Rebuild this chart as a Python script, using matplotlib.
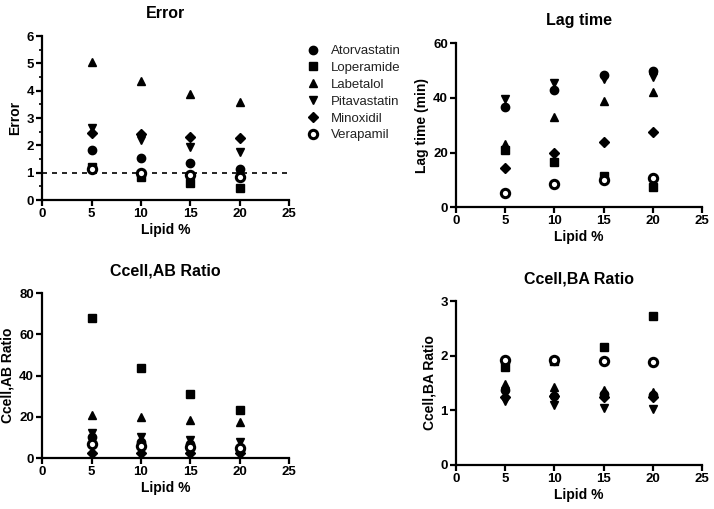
import matplotlib
matplotlib.use("Agg")
import matplotlib.pyplot as plt
from matplotlib.lines import Line2D
from matplotlib.ticker import MultipleLocator

plt.rcParams['font.family'] = ['Liberation Sans', 'DejaVu Sans']

lipid = [5, 10, 15, 20]
drugs = ["Atorvastatin", "Loperamide", "Labetalol", "Pitavastatin", "Minoxidil", "Verapamil"]
markers = ["o", "s", "^", "v", "D", "o"]

error_vals = {
    "Atorvastatin": [1.85, 1.55, 1.37, 1.12],
    "Loperamide":   [1.2, 0.85, 0.62, 0.45],
    "Labetalol":    [5.05, 4.35, 3.9, 3.6],
    "Pitavastatin": [2.65, 2.2, 1.95, 1.75],
    "Minoxidil":    [2.45, 2.42, 2.32, 2.27],
    "Verapamil":    [1.12, 1.0, 0.93, 0.85],
}
lag_vals = {
    "Atorvastatin": [36.5, 43, 48.5, 50],
    "Loperamide":   [21, 16.5, 11.5, 7.5],
    "Labetalol":    [23, 33, 39, 42],
    "Pitavastatin": [39.5, 45.5, 47, 47.5],
    "Minoxidil":    [14.5, 20, 24, 27.5],
    "Verapamil":    [5.2, 8.5, 10, 10.5],
}
ab_vals = {
    "Atorvastatin": [10, 8, 7, 4],
    "Loperamide":   [68, 43.5, 31, 23.5],
    "Labetalol":    [21, 20, 18.5, 17.5],
    "Pitavastatin": [12, 10, 9, 8],
    "Minoxidil":    [2.5, 2.5, 2.5, 2.5],
    "Verapamil":    [7, 6, 5.5, 5],
}
ba_vals = {
    "Atorvastatin": [1.38, 1.27, 1.3, 1.28],
    "Loperamide":   [1.8, 1.9, 2.16, 2.72],
    "Labetalol":    [1.48, 1.42, 1.37, 1.33],
    "Pitavastatin": [1.18, 1.1, 1.05, 1.03],
    "Minoxidil":    [1.25, 1.27, 1.25, 1.25],
    "Verapamil":    [1.92, 1.92, 1.9, 1.88],
}

fig = plt.figure(figsize=(7.14, 5.09), dpi=100)
positions = [
    [0.059, 0.607, 0.346, 0.322],
    [0.639, 0.593, 0.344, 0.322],
    [0.059, 0.100, 0.346, 0.324],
    [0.639, 0.0865, 0.344, 0.322],
]
titles = ["Error", "Lag time", "Ccell,AB Ratio", "Ccell,BA Ratio"]
ylabels = ["Error", "Lag time (min)", "Ccell,AB Ratio", "Ccell,BA Ratio"]
datasets = [error_vals, lag_vals, ab_vals, ba_vals]
ylims = [(0, 6), (0, 60), (0, 80), (0, 3)]
ysteps = [1, 20, 20, 1]

def draw_marker(ax, drug, x, y):
    i = drugs.index(drug)
    m = markers[i]
    if drug == "Verapamil":
        ax.plot(x, y, linestyle="none", marker="o", markersize=6,
                markerfacecolor="white", markeredgecolor="black", markeredgewidth=2.2, zorder=3)
    else:
        ms = 6 if m != "D" else 5
        ax.plot(x, y, linestyle="none", marker=m, markersize=ms, color="black", zorder=3)

for k in range(4):
    ax = fig.add_axes(positions[k])
    data = datasets[k]
    for d in drugs:
        draw_marker(ax, d, lipid, data[d])
    if k == 0:
        ax.axhline(1, color="black", linestyle=(0, (3, 3)), linewidth=1.2, zorder=1)
        ax.yaxis.set_minor_locator(MultipleLocator(0.5))
    ax.set_xlim(0, 25)
    ax.set_ylim(*ylims[k])
    ax.xaxis.set_major_locator(MultipleLocator(5))
    ax.yaxis.set_major_locator(MultipleLocator(ysteps[k]))
    for s in ["top", "right"]:
        ax.spines[s].set_visible(False)
    for s in ["left", "bottom"]:
        ax.spines[s].set_linewidth(1.6)
    ax.tick_params(axis="both", which="major", width=1.6, length=4, labelsize=9.5, pad=2)
    ax.tick_params(axis="both", which="minor", width=1.2, length=2.5)
    for lbl in ax.get_xticklabels() + ax.get_yticklabels():
        lbl.set_fontweight("bold")
    ax.set_title(titles[k], fontsize=11.5, fontweight="bold", pad=13)
    ax.set_ylabel(ylabels[k], fontsize=10, fontweight="bold", labelpad=3)
    ax.set_xlabel("Lipid %", fontsize=10, fontweight="bold", labelpad=2)
    for line in ax.lines:
        line.set_clip_on(False)

handles = []
for i, d in enumerate(drugs):
    if d == "Verapamil":
        h = Line2D([], [], linestyle="none", marker="o", markersize=6,
                   markerfacecolor="white", markeredgecolor="black", markeredgewidth=2.2)
    else:
        ms = 6 if markers[i] != "D" else 5
        h = Line2D([], [], linestyle="none", marker=markers[i], markersize=ms, color="black")
    handles.append(h)
leg = fig.legend(handles, drugs, loc="upper left", bbox_to_anchor=(0.41, 0.935), frameon=False,
                 fontsize=9.5, handletextpad=0.8, labelspacing=0.35, handlelength=1.2)
for t in leg.get_texts():
    t.set_color("#222222")

fig.savefig("out.png", dpi=100)
